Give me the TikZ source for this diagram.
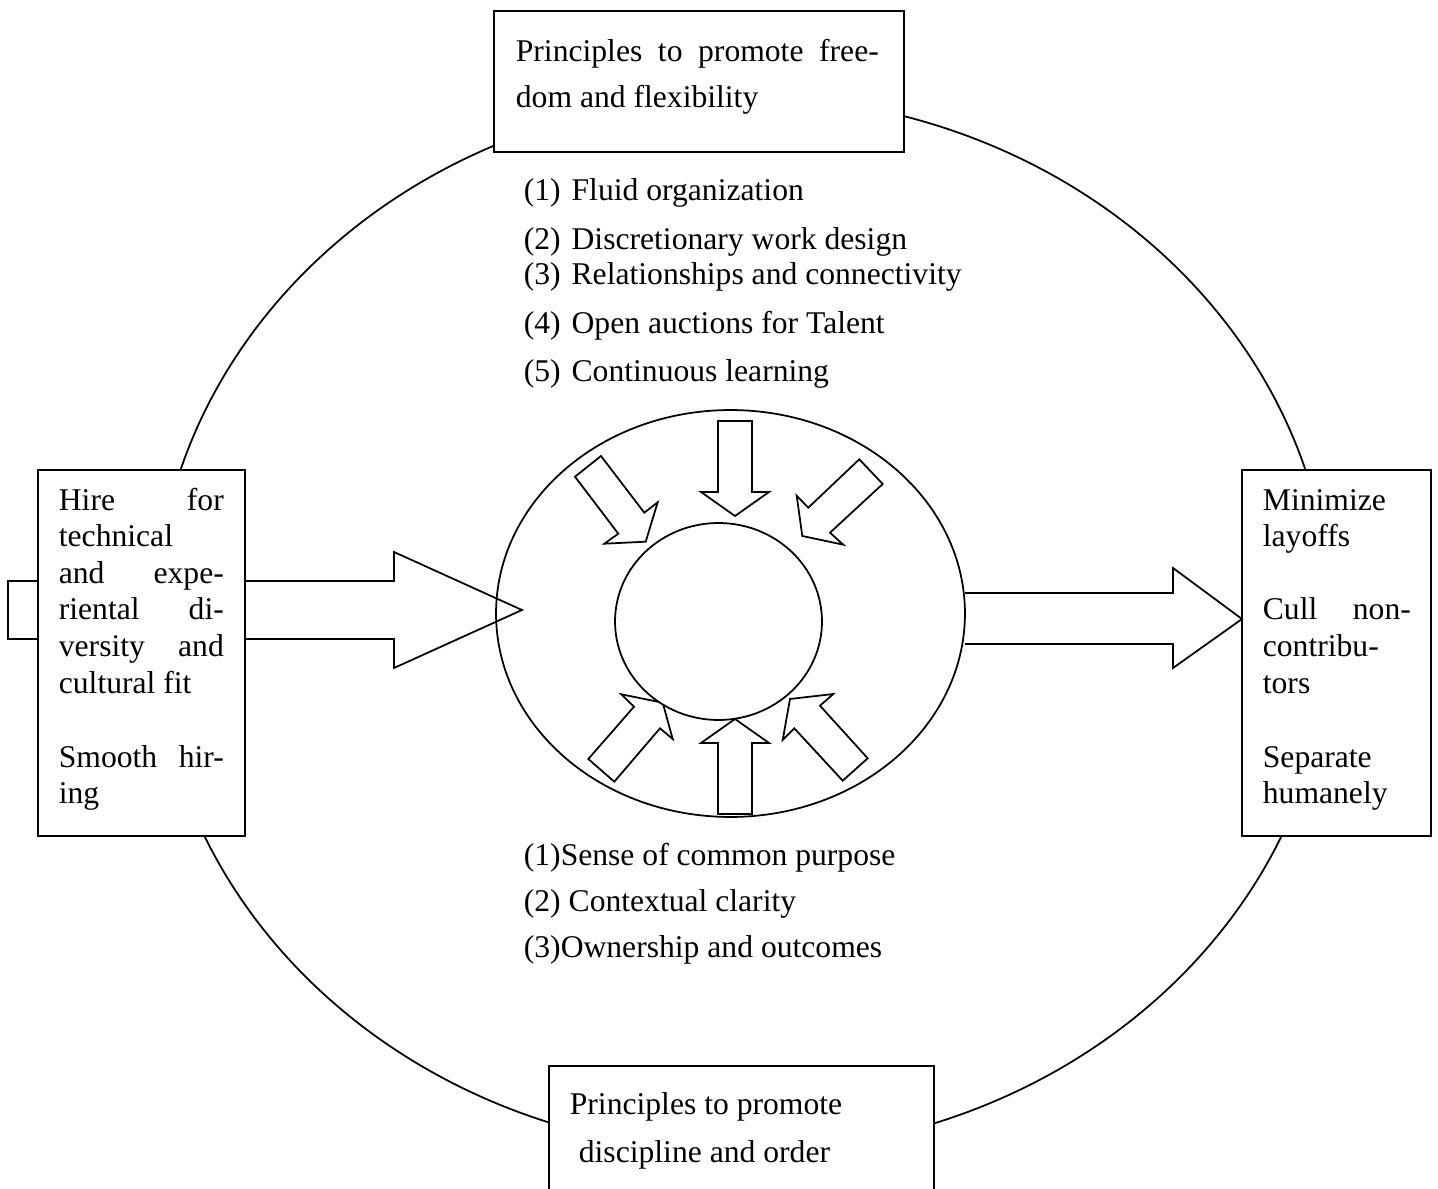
\documentclass[tikz,border=0pt]{standalone}
\usepackage{fontspec}
\setmainfont{Liberation Serif}
\usetikzlibrary{shapes.geometric}
\newcommand{\itemgap}{\ \kern1.7pt}
\begin{document}
\begin{tikzpicture}[x=0.02cm, y=-0.02cm, line width=1pt,
  txt/.style={anchor=base west, inner sep=0pt, font=\fontsize{18}{20}\selectfont},
  panel/.style={draw, fill=white, rectangle, inner sep=0pt},
  oval/.style={draw, ellipse, inner sep=0pt},
  blockarrow/.style={draw, line join=miter}]
\useasboundingbox (0,0) rectangle (1438,1189);
\clip (0,0) rectangle (1438,1189);
\fill[white] (0,0) rectangle (1438,1189);

% outer cycle
\node[oval, minimum width=23.52cm, minimum height=21.12cm] (ring) at (743,624) {};

% small tab on the left panel
\draw (38,581) -- (8,581) -- (8,639) -- (38,639);

% the four panels on the cycle
\node[panel, minimum width=8.2cm, minimum height=2.82cm] (topbox) at (699,81.5) {};
\node[panel, minimum width=4.14cm, minimum height=7.32cm] (leftbox) at (141.5,653) {};
\node[panel, minimum width=3.78cm, minimum height=7.32cm] (rightbox) at (1336.5,653) {};
\node[panel, minimum width=7.7cm, minimum height=2.88cm] (botbox) at (741.5,1138) {};

% central core
\node[oval, minimum width=9.38cm, minimum height=8.14cm] (core) at (730.5,613.5) {};

% input and output arrows
\draw[blockarrow] (245,581) -- (394,581) -- (394,552) -- (522,610) -- (394,668) -- (394,639) -- (245,639);
\draw[blockarrow] (965,593) -- (1173,593) -- (1173,568) -- (1242,619) -- (1173,668) -- (1173,644) -- (965,644);

% arrows pointing to the centre
\draw[blockarrow] (718,421) -- (752,421) -- (752,492) -- (769,492) -- (735,516) -- (701,492) -- (718,492) -- cycle;
\draw[blockarrow] (575,476.7) -- (618.3,533.7) -- (604.3,543.7) -- (645.7,541.7) -- (657.7,502.3) -- (644.3,512.7) -- (601,456) -- cycle;
\draw[blockarrow] (859.3,459.3) -- (882.7,484) -- (830,532.7) -- (843.3,544.7) -- (802.3,536) -- (796.7,495.7) -- (808.3,507.7) -- cycle;
\draw[blockarrow] (718,814) -- (752,814) -- (752,743) -- (769,743) -- (735,719) -- (701,743) -- (718,743) -- cycle;
\draw[blockarrow] (588.3,759) -- (634,706.7) -- (621.3,694.3) -- (662.7,702.7) -- (672.7,739) -- (660,728.3) -- (614.3,781.7) -- cycle;
\draw[blockarrow] (867.7,758.3) -- (842.7,780.7) -- (794.3,728.3) -- (782.7,740) -- (790,699) -- (833.3,694) -- (820,705.7) -- cycle;

\node[oval, fill=white, minimum width=4.14cm, minimum height=3.94cm] (inner) at (718.5,621.5) {};

% top panel text
\node[txt] (t1) at (515,62) {\hbox to 7.26cm{Principles\hfill to\hfill promote\hfill free-}};
\node[txt] (t2) at (515,108) {dom and flexibility};

% freedom principles
\node[txt] (f1) at (523,201) {(1)\itemgap Fluid organization};
\node[txt] (f2) at (523,250) {(2)\itemgap Discretionary work design};
\node[txt] (f3) at (523,285) {(3)\itemgap Relationships and connectivity};
\node[txt] (f4) at (523,334) {(4)\itemgap Open auctions for Talent};
\node[txt] (f5) at (523,382) {(5)\itemgap Continuous learning};

% left panel text
\node[txt] (l1) at (58,511) {\hbox to 3.3cm{Hire\hfill for}};
\node[txt] (l2) at (58,547) {technical};
\node[txt] (l3) at (58,583) {\hbox to 3.3cm{and\hfill expe-}};
\node[txt] (l4) at (58,620) {\hbox to 3.3cm{riental\hfill di-}};
\node[txt] (l5) at (58,657) {\hbox to 3.3cm{versity\hfill and}};
\node[txt] (l6) at (58,693) {cultural fit};
\node[txt] (l7) at (58,767) {\hbox to 3.3cm{Smooth\hfill hir-}};
\node[txt] (l8) at (58,803) {ing};

% right panel text
\node[txt] (r1) at (1262,511) {Minimize};
\node[txt] (r2) at (1262,547) {layoffs};
\node[txt] (r3) at (1262,620) {\hbox to 2.96cm{Cull\hfill non-}};
\node[txt] (r4) at (1262,657) {contribu-};
\node[txt] (r5) at (1262,693) {tors};
\node[txt] (r6) at (1262,767) {Separate};
\node[txt] (r7) at (1262,803) {humanely};

% discipline principles
\node[txt] (d1) at (523,865) {(1)Sense of common purpose};
\node[txt] (d2) at (523,911) {(2) Contextual clarity};
\node[txt] (d3) at (523,957) {(3)Ownership and outcomes};

% bottom panel text
\node[txt] (b1) at (569,1114) {Principles to promote};
\node[txt] (b2) at (578,1162) {discipline and order};
\end{tikzpicture}
\end{document}
